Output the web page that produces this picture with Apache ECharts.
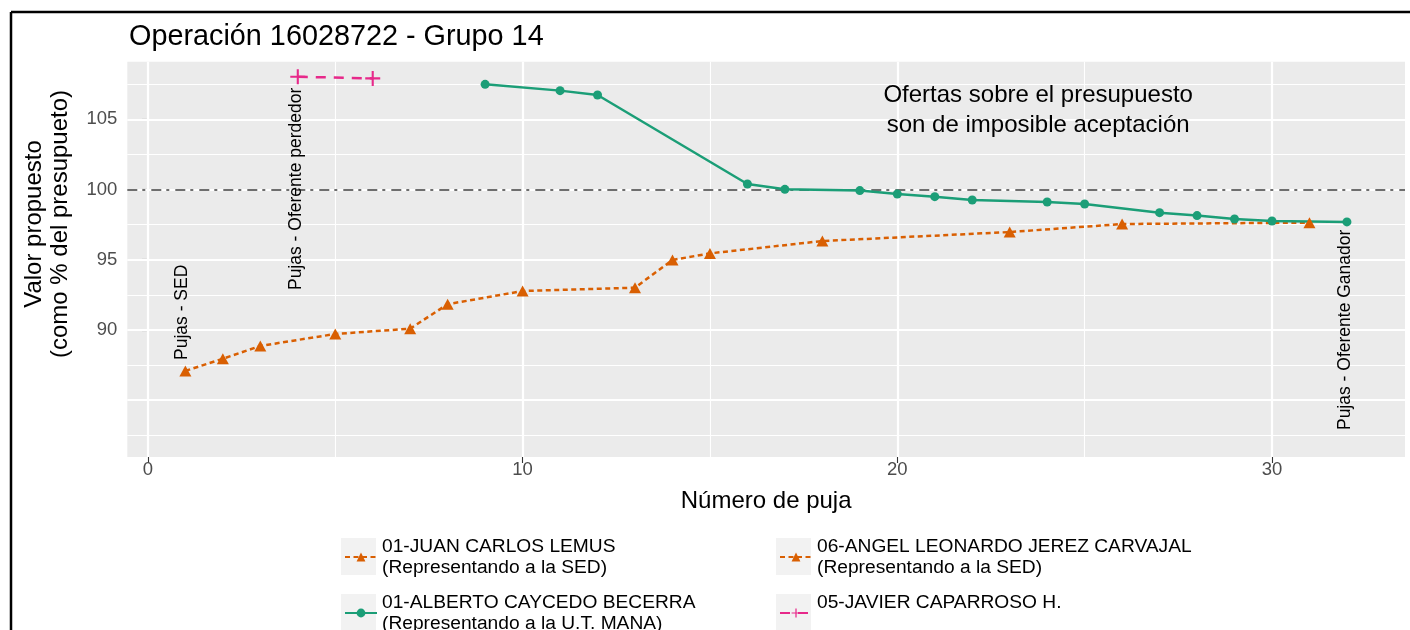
<!DOCTYPE html>
<html><head><meta charset="utf-8">
<script src="https://cdn.jsdelivr.net/npm/echarts@6/dist/echarts.min.js"></script>
<style>html,body{margin:0;padding:0;background:#fff}#chart{width:1410px;height:630px}</style>
</head><body><div id="chart"></div>
<script>
const FONT = '"Liberation Sans", Arial, Helvetica, sans-serif';
const titleText = 'Operación 16028722 - Grupo 14';
const xAxisTitle = 'Número de puja';
const yAxisTitle = 'Valor propuesto\n(como % del presupueto)';

const nameJuan = '01-JUAN CARLOS LEMUS\n(Representando a la SED)';
const nameAngel = '06-ANGEL LEONARDO JEREZ CARVAJAL\n(Representando a la SED)';
const nameAlberto = '01-ALBERTO CAYCEDO BECERRA\n(Representando a la U.T. MANA)';
const nameJavier = '05-JAVIER CAPARROSO H.';

// bids by the SED representatives
const bidsSED = [1, 2, 3, 5, 7, 8, 10, 13, 14, 15, 18, 23, 26, 31];
const valuesSED = [87.08, 87.95, 88.86, 89.71, 90.09, 91.83, 92.77, 93.01, 94.98, 95.45, 96.33, 96.97, 97.54, 97.64];
// bids by U.T. MANA (winner)
const bidsUT = [9, 11, 12, 16, 17, 19, 20, 21, 22, 24, 25, 27, 28, 29, 30, 32];
const valuesUT = [107.49, 107.04, 106.73, 100.39, 100.01, 99.92, 99.68, 99.49, 99.25, 99.11, 98.97, 98.35, 98.14, 97.90, 97.76, 97.69];
// bids by the losing bidder
const bidsJavier = [4, 6];
const valuesJavier = [108.03, 107.91];
// second SED representative (no separate bids visible)
const bidsAngel = [];
const valuesAngel = [];

const xTicks = [0, 10, 20, 30];
const xMinorGrid = [5, 15, 25];
const yTicks = [90, 95, 100, 105];
const yMajorGrid = [85, 90, 95, 100, 105];
const yMinorGrid = [82.5, 87.5, 92.5, 97.5, 102.5, 107.5];
const xRange = [-0.55, 33.55];
const yRange = [80.95, 109.1];
const budgetLine = 100;

const annotations = [
  { text: 'Pujas - SED', x: 0.92, y: 87.86, angle: 90 },
  { text: 'Pujas - Oferente perdedor', x: 3.95, y: 92.84, angle: 90 },
  { text: 'Pujas - Oferente Ganador', x: 31.96, y: 82.87, angle: 90 },
  { text: 'Ofertas sobre el presupuesto\nson de imposible aceptación', x: 23.76, y: 105.6, angle: 0 }
];

// legend layout: [name, left, top]
const legendItems = [
  [nameJuan, 344, 536.3],
  [nameAlberto, 344, 592.3],
  [nameAngel, 779, 536.3],
  [nameJavier, 779, 592.3]
];

const ORANGE = '#D95F02', GREEN = '#1B9E77', PINK = '#E7298A';
const PLUS = 'path://M0,4.3H10V5.7H0Z M4.3,0H5.7V10H4.3Z';

const pairs = (xs, ys) => xs.map((x, i) => [x, ys[i]]);

const chart = echarts.init(document.getElementById('chart'), null, { renderer: 'canvas' });

const gridLines = [].concat(
  xTicks.map(v => ({ xAxis: v, lineStyle: { width: 2.2 } })),
  xMinorGrid.map(v => ({ xAxis: v, lineStyle: { width: 1.1 } })),
  yMajorGrid.map(v => ({ yAxis: v, lineStyle: { width: 2.2 } })),
  yMinorGrid.map(v => ({ yAxis: v, lineStyle: { width: 1.1 } }))
);

const sedStyle = {
  type: 'line', symbol: 'triangle', symbolSize: [12, 11], z: 3,
  itemStyle: { color: ORANGE },
  lineStyle: { color: ORANGE, width: 2.5, type: [5, 3.5] }
};

const legendText = { fontFamily: FONT, fontSize: 19.2, lineHeight: 20.7, color: '#000' };

const option = {
  animation: false,
  backgroundColor: '#ffffff',
  textStyle: { fontFamily: FONT },
  title: {
    text: titleText, left: 124, top: 16,
    textStyle: { fontFamily: FONT, fontSize: 28.8, fontWeight: 'normal', color: '#000', lineHeight: 32 }
  },
  grid: { left: 127.3, top: 61.7, width: 1277.7, height: 395.3, show: true, backgroundColor: '#EBEBEB', borderWidth: 0 },
  xAxis: {
    type: 'value', min: xRange[0], max: xRange[1],
    name: xAxisTitle, nameLocation: 'middle', nameGap: 32,
    nameTextStyle: { fontFamily: FONT, fontSize: 24, color: '#000' },
    axisLine: { show: false },
    axisTick: { show: true, customValues: xTicks, length: 6, lineStyle: { color: '#333', width: 1.1 } },
    axisLabel: { customValues: xTicks, fontFamily: FONT, fontSize: 18.5, color: '#4D4D4D', margin: 3 },
    splitLine: { show: false }
  },
  yAxis: {
    type: 'value', min: yRange[0], max: yRange[1],
    axisLine: { show: false },
    axisTick: { show: true, customValues: yTicks, length: 6, lineStyle: { color: '#333', width: 1.1 } },
    axisLabel: { customValues: yTicks, fontFamily: FONT, fontSize: 18.5, color: '#4D4D4D', margin: 10 },
    splitLine: { show: false }
  },
  legend: legendItems.map(([n, l, t]) => ({
    data: [n], left: l, top: t, orient: 'vertical', padding: 0,
    itemWidth: 32, itemHeight: 11, selectedMode: false,
    textStyle: legendText,
    formatter: s => s.indexOf('\n') >= 0 ? s : s + '\n'
  })),
  series: [
    {
      name: '__grid', type: 'line', data: [], z: 1, silent: true,
      markLine: { z: 1, silent: true, symbol: ['none', 'none'], label: { show: false },
        lineStyle: { color: '#FFFFFF', type: 'solid' }, data: gridLines, animation: false }
    },
    {
      name: '__budget', type: 'line', data: [], z: 2, silent: true,
      markLine: { z: 2, silent: true, symbol: ['none', 'none'], label: { show: false },
        lineStyle: { color: '#6E6E6E', width: 2, type: [10, 5, 3, 6] },
        data: [{ yAxis: budgetLine }], animation: false }
    },
    Object.assign({ name: nameJuan, data: pairs(bidsSED, valuesSED) }, sedStyle),
    Object.assign({ name: nameAngel, data: pairs(bidsAngel, valuesAngel) }, sedStyle),
    {
      name: nameAlberto, type: 'line', data: pairs(bidsUT, valuesUT), z: 3,
      symbol: 'circle', symbolSize: 9,
      itemStyle: { color: GREEN }, lineStyle: { color: GREEN, width: 2.5, type: 'solid' }
    },
    {
      name: nameJavier, type: 'line', data: pairs(bidsJavier, valuesJavier), z: 3,
      symbol: PLUS, symbolSize: 15,
      itemStyle: { color: PINK }, lineStyle: { color: PINK, width: 2.5, type: [10, 8] }
    }
  ]
};
chart.setOption(option);

// decorations: border, legend key backgrounds, y-axis title, annotations
const graphics = [
  { type: 'line', shape: { x1: 11, y1: 12, x2: 1410, y2: 12 }, style: { stroke: '#000', lineWidth: 2.5 }, z: 50 },
  { type: 'line', shape: { x1: 11, y1: 12, x2: 11, y2: 630 }, style: { stroke: '#000', lineWidth: 2.5 }, z: 50 },
  { type: 'rect', shape: { x: 341, y: 538, width: 35, height: 37 }, style: { fill: '#F2F2F2' }, z: -1 },
  { type: 'rect', shape: { x: 341, y: 594, width: 35, height: 37 }, style: { fill: '#F2F2F2' }, z: -1 },
  { type: 'rect', shape: { x: 776, y: 538, width: 35, height: 37 }, style: { fill: '#F2F2F2' }, z: -1 },
  { type: 'rect', shape: { x: 776, y: 594, width: 35, height: 37 }, style: { fill: '#F2F2F2' }, z: -1 },
  { type: 'text', x: 47, y: 224, rotation: Math.PI / 2, z: 50,
    style: { text: yAxisTitle, fontFamily: FONT, fontSize: 24, lineHeight: 26, fill: '#000', align: 'center', verticalAlign: 'middle' } }
];
annotations.forEach(a => {
  const p = chart.convertToPixel({ gridIndex: 0 }, [a.x, a.y]);
  graphics.push({
    type: 'text', x: p[0], y: p[1], rotation: a.angle * Math.PI / 180, z: 60,
    style: {
      text: a.text, fontFamily: FONT, fontSize: a.angle ? 17.5 : 24, lineHeight: a.angle ? 20 : 30,
      fill: '#000', align: a.angle ? 'left' : 'center', verticalAlign: 'middle'
    }
  });
});
chart.setOption({ graphic: { elements: graphics } });
</script>
</body></html>
